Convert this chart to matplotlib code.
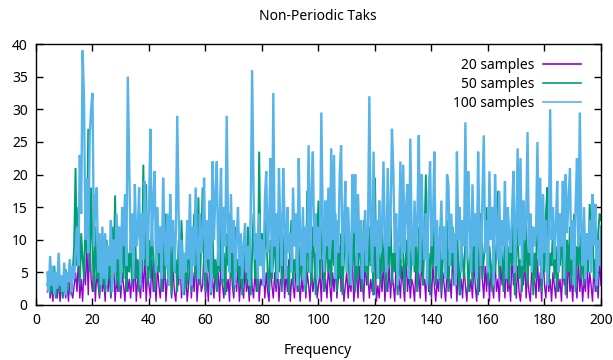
import numpy as np
import matplotlib
matplotlib.use("Agg")
import matplotlib.pyplot as plt

plt.rcParams['font.family'] = ['Noto Sans', 'DejaVu Sans']

title = "Non-Periodic Taks"
xlabel = "Frequency"
series_labels = ["20 samples", "50 samples", "100 samples"]
series_colors = ["#9400d3", "#009e73", "#56b4e9"]
f_start = 4.0
f_step = 0.5
xticks = list(range(0, 201, 20))
yticks = list(range(0, 41, 5))

samples_20 = [
    2, 4, 1, 3, 0.5, 5, 2, 1, 4, 0.5, 3, 2, 5, 1, 3.5, 0.5, 4, 2, 1, 3,
    5, 2, 7, 1, 4, 0.5, 6, 3, 9, 1.5, 12, 4, 2, 7, 0.5, 5, 3, 1, 6, 2,
    4, 0.5, 7, 2, 5, 1, 3, 6, 0.5, 4, 2, 8, 1, 5, 3, 0.5, 6, 2, 4, 1,
    5, 2, 7, 0.5, 4, 3, 1, 6, 2, 8, 0.5, 5, 3, 1, 7, 2, 4, 0.5, 6, 3,
    1, 5, 2, 7, 0.5, 4, 3, 8, 1, 6, 2, 0.5, 5, 3, 7, 1, 4, 2, 6, 0.5,
    3, 7, 1, 5, 2, 8, 0.5, 4, 6, 2, 3, 9, 1, 5, 0.5, 7, 2, 4, 1, 6,
    2, 5, 0.5, 7, 3, 1, 6, 2, 4, 0.5, 8, 3, 1, 5, 2, 6, 0.5, 4, 3, 1,
    6, 2, 4, 0.5, 7, 3, 1, 5, 2, 8, 0.5, 4, 3, 6, 1, 5, 2, 0.5, 7, 3,
    1, 5, 2, 6, 0.5, 4, 3, 8, 1, 5, 2, 7, 0.5, 4, 3, 1, 6, 2, 5, 0.5,
    4, 2, 7, 1, 5, 3, 0.5, 6, 2, 4, 8, 1, 3, 5, 0.5, 7, 2, 4, 1, 6,
    3, 0.5, 5, 2, 7, 1, 4, 9, 2, 6, 0.5, 3, 5, 1, 4, 2, 7, 0.5, 3, 5,
    1, 6, 2, 4, 0.5, 7, 3, 5, 1, 4, 2, 6, 8.7, 0.5, 3, 1, 5, 2, 7, 0.5,
    4, 2, 6, 1, 5, 3, 0.5, 7, 2, 4, 1, 6, 3, 0.5, 8, 2, 5, 1, 4, 3,
    0.5, 6, 2, 5, 1, 7, 3, 4, 0.5, 9, 2, 5, 1, 6, 3, 0.5, 4, 2, 7, 1,
    5, 3, 0.5, 6, 2, 4, 1, 8, 3, 5, 0.5, 7, 2, 4, 1, 6, 3, 0.5, 5, 2,
    4, 1, 7, 3, 0.5, 5, 2, 14, 4, 1, 6, 2, 8, 0.5, 5, 3, 1, 7, 2, 4,
    0.5, 6, 3, 5, 1, 7, 2, 4, 0.5, 8, 3, 5, 1, 6, 2, 0.5, 4, 3, 7, 1,
    5, 2, 0.5, 6, 3, 4, 1, 7, 2, 5, 0.5, 8, 3, 1, 6, 2, 4, 0.5, 5, 3,
    1, 7, 2, 4, 0.5, 6, 3, 5, 1, 8, 2, 4, 0.5, 6, 3, 1, 7, 2, 5, 0.5,
    4, 2, 8, 1, 5, 3, 0.5, 6, 2, 4, 1, 7, 3,
]

samples_50 = [
    3, 5, 1.5, 4, 2, 6, 1, 3.5, 5, 2, 4, 1, 3, 5.5, 2, 4, 7, 1.5, 5, 9,
    21, 6, 15, 3, 11, 7, 4, 13, 8, 27, 5, 18, 9, 2, 12, 4, 7, 1.5, 9, 3,
    6, 2, 10, 4, 8, 1.5, 12, 5, 16.8, 3, 9, 2, 7, 11, 4, 13, 2, 8, 5, 10,
    3, 9, 14, 4, 7, 2, 11, 5, 21.5, 6, 18.5, 3, 10, 4, 13, 7, 2, 9, 12, 5,
    8, 2, 11, 4, 14, 6, 3, 9, 1.5, 12, 5, 7, 2, 10, 4, 13, 6, 1.5, 8, 3,
    11, 5, 2, 9, 14, 4, 7, 16.5, 3, 10, 18, 6, 2, 12, 5, 8, 1.5, 11, 4, 7,
    2, 10, 5, 13, 3, 8, 1.5, 11, 6, 14, 4, 9, 2, 12, 5, 7, 3, 10, 1.5, 6,
    9, 3, 12, 5, 1.5, 8, 14, 4, 7, 2, 23.5, 6, 11, 3, 9, 13, 5, 2, 10, 4,
    7, 12, 3, 9, 5, 14, 2, 8, 11, 4, 6, 1.5, 10, 13, 3, 7, 5, 12, 2, 9,
    4, 11, 6, 2, 17.5, 5, 9, 3, 12, 7, 1.5, 10, 16, 4, 8, 13, 2, 6, 11, 5,
    9, 3, 12, 6, 14, 2, 8, 4, 11, 1.5, 7, 13, 5, 9, 3, 10, 6, 12, 2, 8,
    4, 11, 7, 2, 13, 5, 9, 3, 12, 6, 8, 1.5, 19.5, 4, 10, 7, 3, 13, 5, 9,
    2, 11, 6, 14, 3, 8, 5, 12, 1.5, 9, 4, 13, 7, 2, 10, 6, 15, 3, 8, 11,
    5, 9, 2, 12, 6, 14, 3, 10, 20, 4, 8, 1.5, 11, 6, 13, 3, 9, 5, 12, 2,
    7, 10, 4, 13, 2, 9, 6, 12, 3, 8, 14.5, 5, 1.5, 11, 7, 4, 10, 13, 2, 6,
    9, 3, 12, 5, 8, 1.5, 11, 14, 4, 7, 10, 15, 3, 9, 6, 2, 12, 5, 8, 17.5,
    4, 10, 7, 2, 13, 5, 9, 3, 11, 6, 14, 1.5, 8, 12, 4, 7, 2, 10, 5, 13,
    3, 9, 6, 12, 1.5, 8, 4, 18, 7, 11, 2, 10, 5, 14, 18, 3, 8, 6, 12, 4,
    9, 2, 11, 6, 13, 4, 8, 1.5, 10, 5, 12, 3, 7, 14, 2, 9, 6, 11, 4, 8,
    3, 10, 6, 5, 15.5, 9, 12, 4, 7, 2, 11, 14, 13,
]

samples_100 = [
    5, 2, 7.5, 3, 6, 1.5, 5, 2.5, 8, 3, 4.5, 2, 6.5, 1.5, 5, 3.5, 7, 2, 6, 4,
    8, 12, 6, 23, 14, 39, 31.5, 10, 19.5, 8, 26, 30, 32.5, 9, 16, 18, 5, 11, 3, 12,
    4, 11, 3, 9, 6, 13, 2, 10, 5, 14, 7, 12, 3, 15, 9, 17, 6, 35, 22, 8,
    14, 4, 18.5, 9, 11, 18, 3, 14, 7, 19, 12, 6, 15, 27, 9, 16, 20.5, 5, 15, 8,
    12, 4, 19.5, 10, 6, 14, 3, 17, 9, 13, 5, 11, 29, 14, 4, 10, 2, 8, 5, 13,
    7, 17, 3, 12, 6, 18, 9, 4, 14, 8, 11, 19.5, 5, 13, 7, 16, 2, 22, 10, 17,
    22, 6, 13, 21, 4, 15, 9, 29, 12, 5, 17, 8, 13, 3, 10, 15, 6, 11, 4, 9,
    12.5, 5, 9, 3, 14, 36, 18, 7, 11, 4, 14, 6, 10, 3, 16, 20.5, 8, 12, 22.5, 5,
    32.5, 9, 14, 4, 21, 11, 6, 21, 13, 4, 15, 8, 11, 5, 18, 9, 14, 3, 22.5, 10,
    6, 15, 3, 12, 8, 24.5, 5, 17, 23.5, 9, 14, 4, 12, 7, 29.5, 13, 5, 16, 9, 18,
    7, 24, 10, 23, 4, 13, 8, 20, 24.5, 6, 12, 19, 5, 15, 9, 3, 20, 11, 20, 6,
    17, 8, 13, 4, 9, 14.5, 6, 11, 32, 12, 5, 23.5, 9, 13, 4, 16, 8, 12, 22, 10,
    5, 21, 9, 13, 27, 20.5, 8, 14, 3, 11, 22, 7, 21.5, 8, 15, 18.5, 4, 25.5, 10, 6,
    16, 9, 13, 26, 5, 20, 11, 7, 14, 3, 17, 22, 9, 12, 23.5, 6, 13, 4, 10, 16,
    7, 12, 4, 20, 18.5, 6, 14, 8, 11, 3, 23.5, 10, 15, 5, 13, 9, 28, 7, 20.5, 12,
    5, 18.5, 9, 14, 4, 23.5, 11, 6, 16, 26, 8, 13, 5, 20.5, 10, 15, 3, 20, 12, 7,
    17.5, 6, 13, 9, 19, 4, 15, 11, 8, 14, 20.5, 5, 12, 24, 9, 22.5, 6, 16, 10, 13,
    26.5, 8, 14, 5, 12, 9, 11, 25, 6, 19.5, 4, 17, 8, 13, 3, 10, 30, 10, 15, 7,
    12, 19, 5, 14, 9, 19, 4, 20, 11, 16, 21, 7, 13, 3, 15, 22.5, 9, 29.5, 12, 6,
    15, 4, 11, 7, 13, 5, 17, 9, 15.5, 3, 10, 6, 12,
]

series = [samples_20, samples_50, samples_100]
line_widths = [1.0, 1.4, 1.7]

fig = plt.figure(figsize=(6.13, 3.6), dpi=100)
ax = fig.add_axes([36/613, 55/360, 565/613, 261/360])

for vals, lab, col, lw in zip(series, series_labels, series_colors, line_widths):
    v = np.asarray(vals, dtype=float)
    f = f_start + f_step * np.arange(len(v))
    ax.plot(f, v, color=col, lw=lw, label=lab, solid_joinstyle='miter')

ax.set_xlim(0, 200)
ax.set_ylim(0, 40)
ax.set_xticks(xticks)
ax.set_yticks(yticks)
ax.tick_params(direction='in', length=5, width=1, top=True, right=True,
               labelsize=10, colors='black', pad=6)
for s in ax.spines.values():
    s.set_linewidth(1.0)
    s.set_color('black')

fig.text(318/613, 1 - 351/360, xlabel, ha='center', va='center', fontsize=10)
fig.text(318/613, 1 - 17/360, title, ha='center', va='center', fontsize=10)

leg = ax.legend(loc='upper right', frameon=False, markerfirst=False,
                fontsize=10, handlelength=2.8, handletextpad=0.6,
                labelspacing=0.3, borderaxespad=0.4, bbox_to_anchor=(0.985, 0.99))
for h in leg.get_lines():
    h.set_linewidth(1.2)

fig.savefig("out.png", dpi=100)
